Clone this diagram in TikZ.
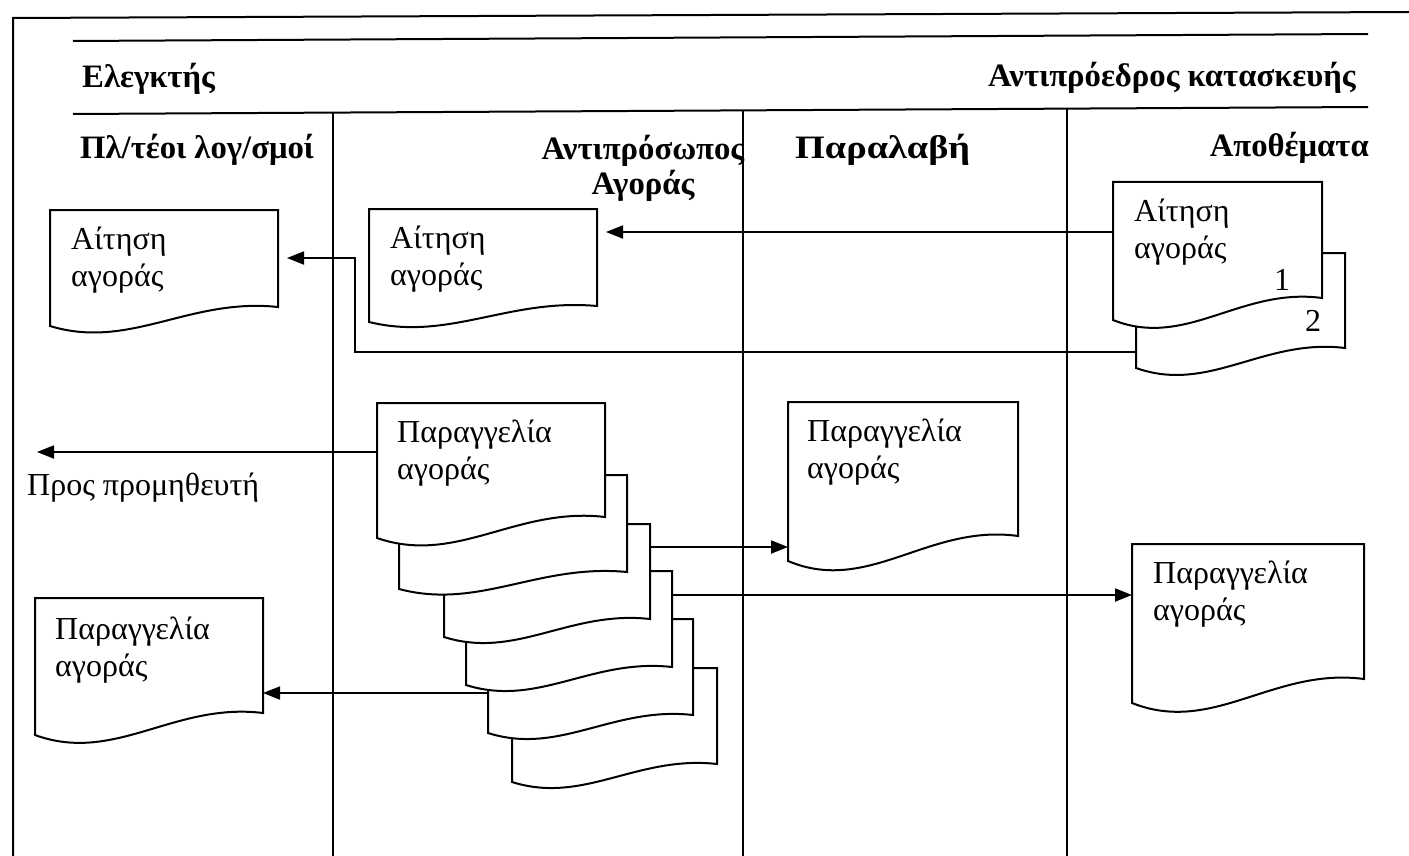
\documentclass[tikz,border=0pt]{standalone}
\usepackage{fontspec}
\setmainfont{Liberation Serif}
\usetikzlibrary{arrows.meta}

% Document symbol: flat top, straight sides, wavy bottom.
% #1 name, #2 left, #3 top, #4 right, #5 bottom at left, #6 bottom at right
\newcommand\docshape[6]{%
  \pgfmathsetmacro\dsW{#4-#2}%
  \pgfmathsetmacro\dsH{#5-#3}%
  \pgfmathsetmacro\dsD{#5-#6}%
  \pgfmathsetmacro\dsA{#2+0.35*\dsW}%
  \pgfmathsetmacro\dsB{#2+0.61*\dsW}%
  \pgfmathsetmacro\dsC{#5+1.6*\dsD-6}%
  \pgfmathsetmacro\dsE{#6-0.5*\dsD}%
  \draw[docline] (#2,#3) -- (#4,#3) -- (#4,#6)
     .. controls (\dsB,\dsE) and (\dsA,\dsC) .. (#2,#5) -- cycle;
  \node[docbox, minimum width=\dsW pt, minimum height=\dsH pt] (#1) at (#2,#3) {};%
}

\begin{document}
\begin{tikzpicture}[x=1pt,y=-1pt,
  rule/.style={line width=2pt},
  docline/.style={line width=2pt, fill=white, line join=miter},
  docbox/.style={inner sep=0pt, outer sep=0pt, draw=none, anchor=north west},
  doctext/.style={inner sep=0pt, anchor=north west, align=left,
                  font=\fontsize{32}{37}\selectfont},
  plain/.style={inner sep=0pt, font=\fontsize{32}{37}\selectfont},
  lanehead/.style={inner sep=0pt, font=\bfseries\fontsize{32.7}{35}\selectfont},
  flow/.style={line width=1.8pt, -{Triangle[length=17pt,width=13pt]}},
]
\useasboundingbox (0,0) rectangle (1409,856);

% frame and header rules
\draw[rule] (13,856) -- (13,18) -- (1409,12);
\draw[rule] (73,41) -- (1368,34);
\draw[rule] (73,114) -- (1368,107);

% swimlane dividers
\draw[rule] (333,112.6) -- (333,856);
\draw[rule] (743,110.4) -- (743,856);
\draw[rule] (1067,108.6) -- (1067,856);

% headings
\node[lanehead, anchor=base west] (ctl) at (82,88) {Ελεγκτής};
\node[lanehead, anchor=base east] (vp) at (1356,87) {Αντιπρόεδρος κατασκευής};
\node[lanehead, anchor=base west] (acc) at (80,159) {Πλ/τέοι λογ/σμοί};
\node[lanehead, anchor=north, align=center] (buy) at (643,135) {Αντιπρόσωπος\\Αγοράς};
\node[lanehead, anchor=base west] (rcv) at (795,159) {\scalebox{1.17}[1]{Παραλαβή}};
\node[lanehead, anchor=base east] (stk) at (1369,157) {Αποθέματα};

% purchase requisition, two copies in stores
\docshape{stkReqB}{1136}{253}{1345}{368}{348}
\docshape{stkReqA}{1113}{182}{1322}{320}{298}
\node[doctext] (stkReqA-t) at (1134,199) {Αίτηση\\αγοράς};
\node[plain, anchor=base] (copy1) at (1282,290) {1};
\node[plain, anchor=base] (copy2) at (1313,331) {2};

% requisition received by purchasing and by accounts
\docshape{agReq}{369}{209}{597}{322}{306}
\node[doctext] (agReq-t) at (390,226) {Αίτηση\\αγοράς};
\docshape{ctlReq}{50}{210}{278}{326}{307}
\node[doctext] (ctlReq-t) at (71,227) {Αίτηση\\αγοράς};

% purchase order, six copies
\docshape{ordF}{512}{668}{717}{782}{764}
\docshape{ordE}{488}{619}{693}{733}{715}
\docshape{ordD}{466}{571}{672}{685}{667}
\docshape{ordC}{444}{524}{650}{637}{619}
\docshape{ordB}{399}{475}{627}{589}{572}
\docshape{ordA}{377}{403}{605}{538}{517}
\node[doctext] (ordA-t) at (397,420) {Παραγγελία\\αγοράς};

% order copies in receiving, stores and accounts
\docshape{rcvOrd}{788}{402}{1018}{561}{536}
\node[doctext] (rcvOrd-t) at (807,419) {Παραγγελία\\αγοράς};
\docshape{stkOrd}{1132}{544}{1364}{703}{679}
\node[doctext] (stkOrd-t) at (1153,561) {Παραγγελία\\αγοράς};
\docshape{ctlOrd}{35}{598}{263}{735}{713}
\node[doctext] (ctlOrd-t) at (55,617) {Παραγγελία\\αγοράς};

% routing points
\coordinate (rowReq) at (0,232);
\coordinate (bendLow) at (355,352);
\coordinate (bendHigh) at (355,258);
\coordinate (supplier) at (37,452);
\coordinate (rowRcv) at (0,547);
\coordinate (rowStk) at (0,595);
\coordinate (rowAcc) at (0,693);

\node[plain, anchor=base west] (supplier-t) at (27,495) {Προς προμηθευτή};

% flows
\draw[flow, shorten >=9pt] (stkReqA.west |- rowReq) -- (agReq.east |- rowReq);
\draw[flow, shorten >=9pt] (stkReqB.west |- bendLow) -- (bendLow) -- (bendHigh)
   -- (ctlReq.east |- bendHigh);
\draw[flow] (ordA.west |- supplier) -- (supplier);
\draw[flow] (ordC.east |- rowRcv) -- (rcvOrd.west |- rowRcv);
\draw[flow] (ordD.east |- rowStk) -- (stkOrd.west |- rowStk);
\draw[flow] (ordE.west |- rowAcc) -- (ctlOrd.east |- rowAcc);
\end{tikzpicture}
\end{document}
